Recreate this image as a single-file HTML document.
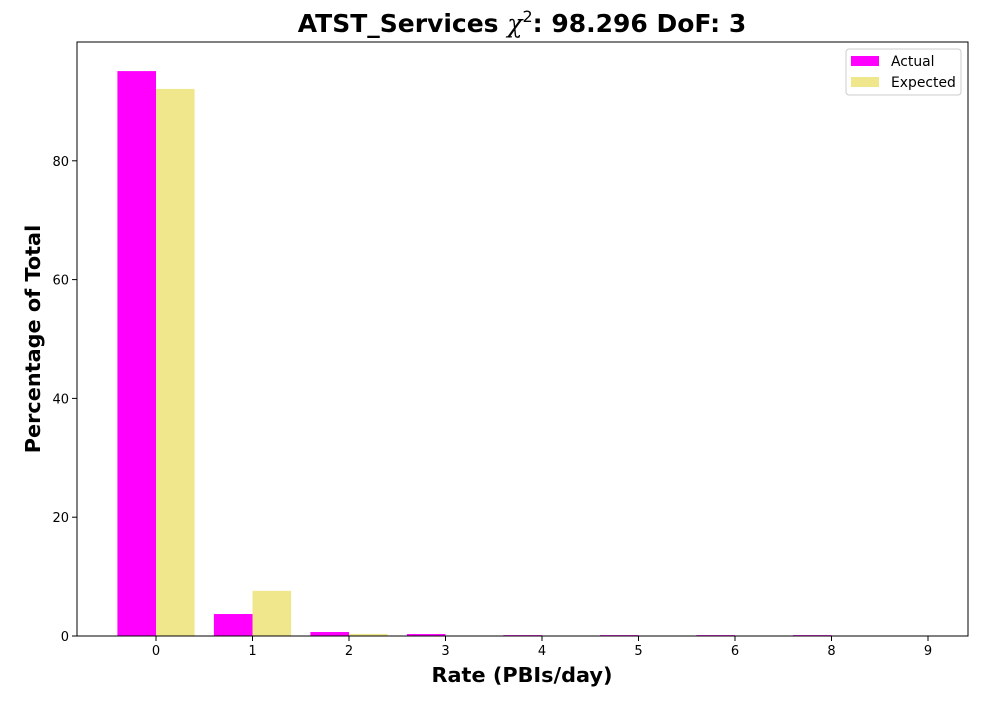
<!DOCTYPE html>
<html><head><meta charset="utf-8"><style>
body{margin:0;background:#fff;font-family:"DejaVu Sans","Liberation Sans",sans-serif;}
svg text{font-family:"DejaVu Sans","Liberation Sans",sans-serif;}
</style></head><body>
<svg id="c" width="1000" height="700" xmlns="http://www.w3.org/2000/svg"></svg>
<script>
const categories=['0','1','2','3','4','5','6','8','9'];
const actual=[95.1,3.7,0.67,0.33,0.15,0.15,0.15,0.15,0];
const expected=[92.1,7.6,0.35,0.05,0,0,0,0,0];
const yTicks=[0,20,40,60,80];
const L=77,R=968,T=42,B=636;
const xs=i=>156+96.5*i;
const ys=v=>B-(B-T)*v/100;
const svg=document.getElementById('c');
const NS='http://www.w3.org/2000/svg';
function mk(t,a,txt){const e=document.createElementNS(NS,t);for(const k in a)e.setAttribute(k,a[k]);if(txt!==undefined)e.textContent=txt;svg.appendChild(e);return e;}
const bw=96.5*0.4;
categories.forEach((c,i)=>{
 let r=mk('rect',{x:xs(i)-bw,y:ys(actual[i]),width:bw,height:B-ys(actual[i]),fill:'#ff00ff'});
 
 
 let e=mk('rect',{x:xs(i),y:ys(expected[i]),width:bw,height:B-ys(expected[i]),fill:'#f0e68c'});
 
 
 let tk=mk('line',{x1:xs(i),x2:xs(i),y1:B,y2:B+5,stroke:'#000'});
 
 
 let tl=mk('text',{x:xs(i),y:B+19,'font-size':13,'text-anchor':'middle'},c);
 
 
});
yTicks.forEach(v=>{
 let tk=mk('line',{x1:L-5,x2:L,y1:ys(v),y2:ys(v),stroke:'#000'});
 
 
 let tl=mk('text',{x:L-8,y:ys(v)+5,'font-size':13,'text-anchor':'end'},v);
 
 
});
let fr=mk('rect',{x:L,y:T,width:R-L,height:B-T,fill:'none',stroke:'#000'});


</script>
<svg width="1000" height="700" style="position:absolute;left:0;top:0" xmlns="http://www.w3.org/2000/svg">
<text x="522" y="32" font-size="25" font-weight="bold" text-anchor="middle">ATST_Services <tspan font-style="italic" font-weight="normal" font-family="DejaVu Serif, serif">χ</tspan><tspan font-size="16" font-weight="normal" dy="-10">2</tspan><tspan dy="10">: 98.296 DoF: 3</tspan></text>
<text x="522" y="682" font-size="20.8" font-weight="bold" text-anchor="middle">Rate (PBIs/day)</text>
<text transform="translate(40,339) rotate(-90)" font-size="20.8" font-weight="bold" text-anchor="middle">Percentage of Total</text>
<g>
<rect x="846" y="49" width="115" height="46" rx="3" fill="#fff" stroke="#ccc"/>
<rect x="851" y="56" width="28" height="10" fill="#ff00ff"/>
<text x="891" y="66" font-size="13.9">Actual</text>
<rect x="851" y="77" width="28" height="10" fill="#f0e68c"/>
<text x="891" y="87" font-size="13.9">Expected</text>
</g>
</svg>
</body></html>
